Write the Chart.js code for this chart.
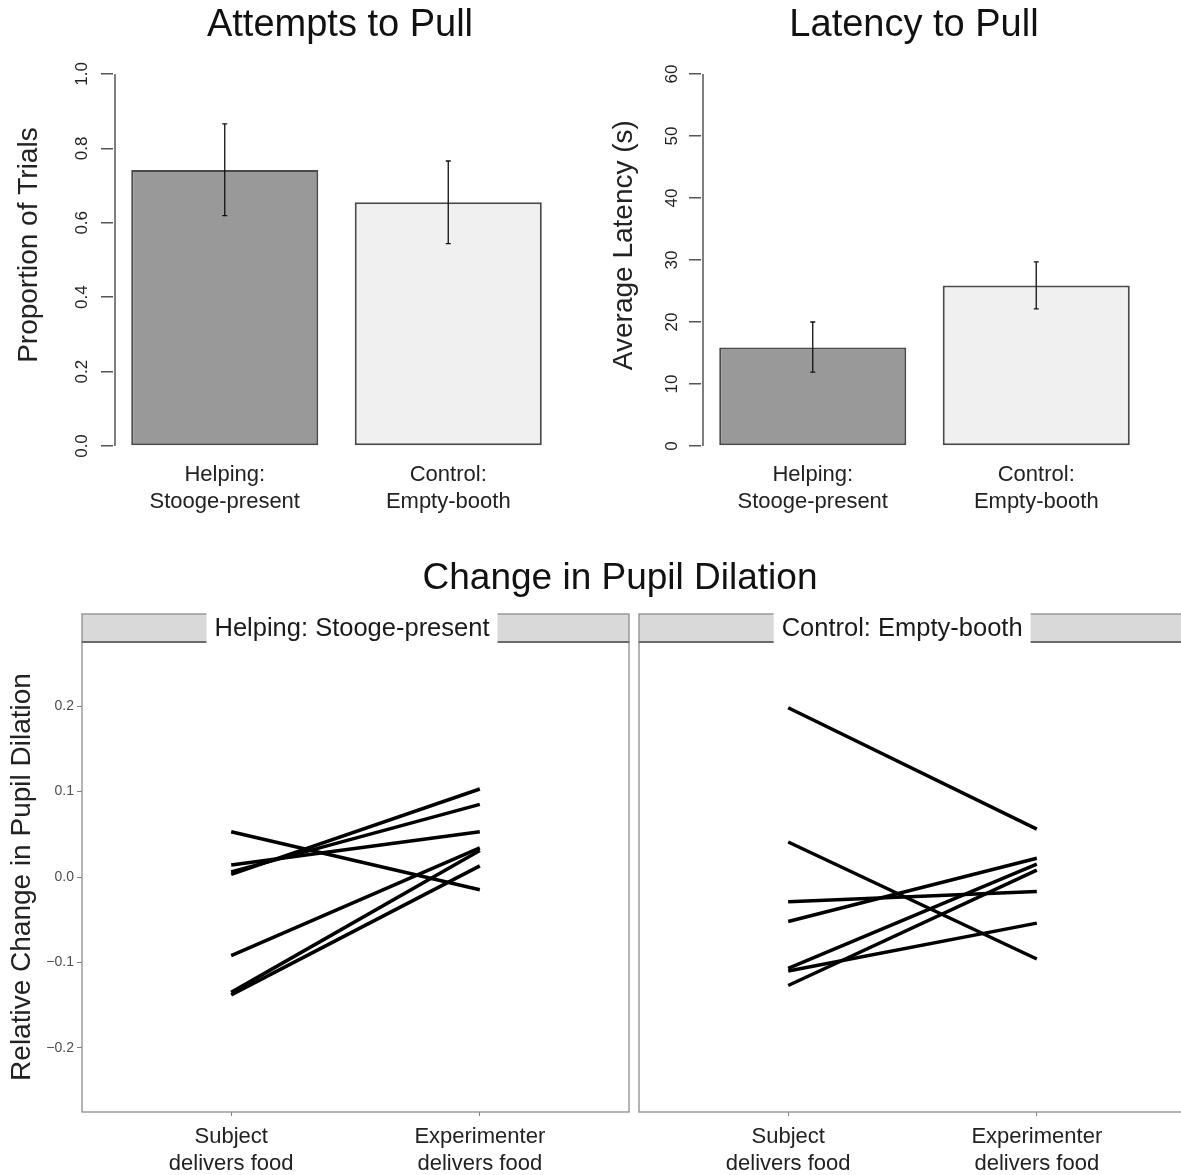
<!DOCTYPE html>
<html>
<head>
<meta charset="utf-8">
<script src="https://cdn.jsdelivr.net/npm/chart.js@4.4.1/dist/chart.umd.min.js"></script>
<style>
  html, body { margin: 0; padding: 0; background: #fff; overflow: hidden; width: 1181px; height: 1175px; }
  #wrap { position: relative; width: 1181px; height: 1175px; overflow: hidden; background: #fff; }
  canvas { position: absolute; }
</style>
</head>
<body>
<div id="wrap">
  <canvas id="attempts" width="590" height="540" style="left:0px;top:0px"></canvas>
  <canvas id="latency" width="590" height="540" style="left:588px;top:0px"></canvas>
  <canvas id="pupilHelping" width="1240" height="625" style="left:0px;top:550px"></canvas>
  <canvas id="pupilControl" width="559" height="625" style="left:631px;top:550px"></canvas>
</div>
<script>
// ---------------- data ----------------
const barCategories = [["Helping:", "Stooge-present"], ["Control:", "Empty-booth"]];

const attemptsMean  = [0.742, 0.655];
const attemptsLower = [0.619, 0.544];
const attemptsUpper = [0.866, 0.766];
const attemptsTicks = [0, 0.2, 0.4, 0.6, 0.8, 1.0];
const attemptsTickLabels = ["0.0", "0.2", "0.4", "0.6", "0.8", "1.0"];

const latencyMean  = [15.9, 25.9];
const latencyLower = [11.9, 22.1];
const latencyUpper = [20.0, 29.7];
const latencyTicks = [0, 10, 20, 30, 40, 50, 60];
const latencyTickLabels = ["0", "10", "20", "30", "40", "50", "60"];

const pupilConditions = [["Subject", "delivers food"], ["Experimenter", "delivers food"]];
const pupilPanels = ["Helping: Stooge-present", "Control: Empty-booth"];
const helpingSubject      = [0.053, 0.014, 0.006, 0.003, -0.092, -0.135, -0.138];
const helpingExperimenter = [-0.015, 0.053, 0.085, 0.103, 0.034, 0.031, 0.013];
const controlSubject      = [0.198, 0.041, -0.029, -0.052, -0.107, -0.110, -0.127];
const controlExperimenter = [0.056, -0.096, -0.017, 0.022, 0.015, -0.054, 0.008];
const pupilTicks = [-0.2, -0.1, 0, 0.1, 0.2];
const pupilTickLabels = ["\u22120.2", "\u22120.1", "0.0", "0.1", "0.2"];

// ---------------- styling ----------------
const FONT = "'Liberation Sans', Arial, Helvetica, sans-serif";
Chart.defaults.font.family = FONT;
Chart.defaults.color = '#222';
Chart.defaults.animation = false;

// error bars drawn through the y scale
const errorBars = {
  id: 'errorBars',
  afterDatasetsDraw(chart, args, opts) {
    const meta = chart.getDatasetMeta(0);
    const ys = chart.scales.y;
    const ctx = chart.ctx;
    ctx.save();
    ctx.strokeStyle = '#111';
    ctx.lineWidth = 1.3;
    meta.data.forEach((bar, i) => {
      const x = bar.x;
      const yl = ys.getPixelForValue(opts.lower[i]);
      const yu = ys.getPixelForValue(opts.upper[i]);
      ctx.beginPath();
      ctx.moveTo(x, yl); ctx.lineTo(x, yu);
      ctx.moveTo(x - 2.5, yl); ctx.lineTo(x + 2.5, yl);
      ctx.moveTo(x - 2.5, yu); ctx.lineTo(x + 2.5, yu);
      ctx.stroke();
    });
    ctx.restore();
  }
};

// R-style axis line spanning only first..last tick
const rAxisLine = {
  id: 'rAxisLine',
  afterDraw(chart, args, o) {
    const ys = chart.scales.y;
    const t = ys.ticks;
    const y0 = ys.getPixelForValue(t[0].value), y1 = ys.getPixelForValue(t[t.length - 1].value);
    const ctx = chart.ctx;
    ctx.save();
    ctx.strokeStyle = '#555';
    ctx.lineWidth = 1.5;
    ctx.beginPath();
    ctx.moveTo(ys.right + 2, y0); ctx.lineTo(ys.right + 2, y1);
    ctx.stroke();
    ctx.restore();
  }
};

const supTitle = {
  id: 'supTitle',
  afterDraw(chart, args, o) {
    if (!o.text) return;
    const ctx = chart.ctx;
    ctx.save();
    ctx.font = o.size + 'px ' + FONT;
    ctx.fillStyle = '#111';
    ctx.textAlign = 'center';
    ctx.textBaseline = 'middle';
    ctx.fillText(o.text, o.x == null ? chart.width / 2 : o.x, o.y);
    ctx.restore();
  }
};

function barChart(id, means, lower, upper, ticks, tickLabels, axisMax, title, titleX, yTitle, yTitlePad) {
  return new Chart(document.getElementById(id), {
    type: 'bar',
    data: {
      labels: barCategories,
      datasets: [{
        data: means,
        backgroundColor: ['#999999', '#f0f0f0'],
        borderColor: '#4a4a4a',
        borderWidth: 2,
        borderSkipped: false,
        barPercentage: 0.837,
        categoryPercentage: 1
      }]
    },
    options: {
      responsive: false,
      animation: false,
      layout: { padding: { left: 0, right: 30, top: 44.2, bottom: 0 } },
      plugins: {
        legend: { display: false },
        tooltip: { enabled: false },
        errorBars: { lower: lower, upper: upper },
        supTitle: { text: title, size: 38, x: titleX, y: 26 }
      },
      scales: {
        x: {
          grid: { display: false, drawTicks: false },
          border: { display: false },
          ticks: { font: { size: 22, lineHeight: 1.25 }, color: '#222', padding: 15, maxRotation: 0, autoSkip: false },
          afterFit: s => { s.height = 94; }
        },
        y: {
          min: ticks[0], max: axisMax,
          afterBuildTicks: s => { s.ticks = ticks.map(v => ({ value: v })); },
          grid: { drawOnChartArea: false, drawTicks: true, tickLength: 12, color: '#555', lineWidth: 1.5, offset: false },
          border: { display: false },
          ticks: {
            callback: (v, i) => tickLabels[i],
            font: { size: 17 }, color: '#222',
            minRotation: 90, maxRotation: 90, crossAlign: 'center', padding: 7, autoSkip: false
          },
          title: { display: true, text: yTitle, font: { size: 28 }, color: '#222', padding: { top: yTitlePad, bottom: 0 } },
          afterFit: s => { s.width = 113; }
        }
      }
    },
    plugins: [errorBars, rAxisLine, supTitle]
  });
}

barChart('attempts', attemptsMean, attemptsLower, attemptsUpper, attemptsTicks, attemptsTickLabels, 1.08,
         'Attempts to Pull', 340, 'Proportion of Trials', 12);
barChart('latency', latencyMean, latencyLower, latencyUpper, latencyTicks, latencyTickLabels, 64.8,
         'Latency to Pull', 326, 'Average Latency (s)', 19);

// facet frame + strip
const panelFrame = {
  id: 'panelFrame',
  afterDraw(chart, args, o) {
    const ctx = chart.ctx, a = chart.chartArea;
    const h = o.stripHeight, top = a.top - h, w = a.right - a.left;
    ctx.save();
    ctx.fillStyle = '#d9d9d9';
    ctx.fillRect(a.left, top, w, h);
    ctx.strokeStyle = '#8c8c8c';
    ctx.lineWidth = 1.3;
    ctx.strokeRect(a.left, top, w, h);
    ctx.strokeRect(a.left, a.top, w, a.bottom - a.top);
    ctx.strokeStyle = '#6b6b6b';
    ctx.lineWidth = 2;
    ctx.beginPath(); ctx.moveTo(a.left, a.top); ctx.lineTo(a.right, a.top); ctx.stroke();
    ctx.font = '25.5px ' + FONT;
    const tw = ctx.measureText(o.text).width;
    const cx = a.left + o.labelCenter * w;
    ctx.fillStyle = '#fff';
    ctx.fillRect(cx - tw / 2 - 8, top - 1.5, tw + 16, h + 3);
    ctx.fillStyle = '#1a1a1a';
    ctx.textAlign = 'center';
    ctx.textBaseline = 'middle';
    ctx.fillText(o.text, cx, top + h / 2 + 1);
    ctx.restore();
  }
};

function pupilChart(id, subj, expv, panelLabel, labelCenter, showY, padding, sup) {
  return new Chart(document.getElementById(id), {
    type: 'line',
    data: {
      datasets: subj.map((s, i) => ({
        data: [{ x: 1, y: s }, { x: 2, y: expv[i] }],
        borderColor: '#000',
        borderWidth: 3.5,
        pointRadius: 0,
        fill: false,
        tension: 0
      }))
    },
    options: {
      responsive: false,
      animation: false,
      layout: { padding: padding },
      plugins: {
        legend: { display: false },
        tooltip: { enabled: false },
        panelFrame: { text: panelLabel, labelCenter: labelCenter, stripHeight: 28 },
        supTitle: sup
      },
      scales: {
        x: {
          type: 'linear', min: 0.4, max: 2.6,
          afterBuildTicks: s => { s.ticks = [1, 2].map(v => ({ value: v })); },
          grid: { drawOnChartArea: false, drawTicks: true, tickLength: 4, color: '#7f7f7f', lineWidth: 1 },
          border: { display: false },
          ticks: {
            callback: (v, i) => pupilConditions[i],
            font: { size: 22, lineHeight: 1.2 }, color: '#222', padding: 8, maxRotation: 0, autoSkip: false
          },
          afterFit: s => { s.height = 63; }
        },
        y: {
          display: showY,
          min: -0.275, max: 0.275,
          afterBuildTicks: s => { s.ticks = pupilTicks.map(v => ({ value: v })); },
          grid: { drawOnChartArea: false, drawTicks: true, tickLength: 5, color: '#7f7f7f', lineWidth: 1 },
          border: { display: false },
          ticks: { callback: (v, i) => pupilTickLabels[i], font: { size: 14 }, color: '#4d4d4d', padding: 3, autoSkip: false },
          title: { display: true, text: 'Relative Change in Pupil Dilation', font: { size: 28 }, color: '#222', padding: { top: 5, bottom: 0 } },
          afterFit: s => { s.width = showY ? 82 : 0; }
        }
      }
    },
    plugins: [panelFrame, supTitle]
  });
}

pupilChart('pupilHelping', helpingSubject, helpingExperimenter, pupilPanels[0], 0.4936, true,
           { left: 0, right: 611, top: 92, bottom: 0 }, { text: 'Change in Pupil Dilation', size: 37, y: 29 });
pupilChart('pupilControl', controlSubject, controlExperimenter, pupilPanels[1], 0.481, false,
           { left: 8, right: 4, top: 92, bottom: 0 }, { text: '' });
</script>
</body>
</html>
